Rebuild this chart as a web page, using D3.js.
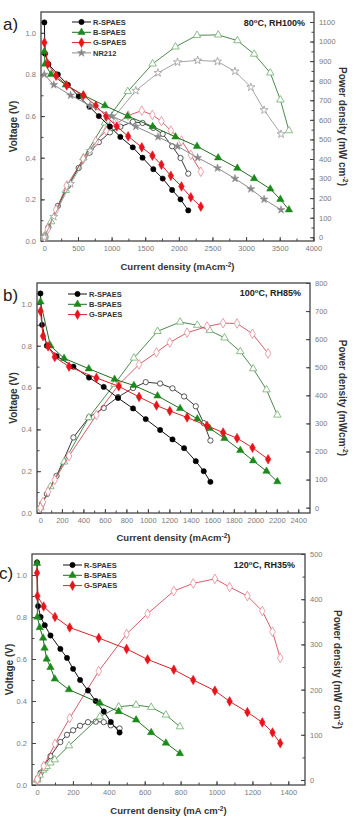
<!DOCTYPE html>
<html>
<head>
<meta charset="utf-8">
<script src="https://cdn.jsdelivr.net/npm/d3@7"></script>
<style>
  body { margin: 0; background: #fff; }
  text { font-family: "Liberation Sans", Arial, sans-serif; }
</style>
</head>
<body>
<script>
// ---- panel a) 80oC, RH100% ----
var aR_I = [0, 10, 60, 200, 350, 510, 670, 810, 975, 1130, 1315, 1460, 1620, 1760, 1900, 2025, 2140];
var aR_V = [1.05, 0.90, 0.85, 0.80, 0.75, 0.695, 0.645, 0.60, 0.55, 0.50, 0.45, 0.40, 0.345, 0.30, 0.245, 0.20, 0.147];
var aR_P = [0, 9, 51, 160, 262, 354, 432, 486, 536, 565, 590, 584, 559, 528, 465, 405, 325];

var aB_I = [0, 10, 100, 320, 580, 900, 1240, 1610, 1950, 2270, 2585, 2870, 3120, 3360, 3510, 3637];
var aB_V = [0.91, 0.85, 0.80, 0.75, 0.70, 0.65, 0.60, 0.55, 0.50, 0.455, 0.40, 0.35, 0.30, 0.25, 0.20, 0.15];
var aB_P = [0, 9, 80, 240, 406, 585, 745, 886, 973, 1032, 1034, 1005, 936, 840, 702, 545];

var aG_I = [0, 50, 174, 333, 580, 765, 918, 1077, 1246, 1449, 1607, 1741, 1881, 2039, 2178, 2327];
var aG_V = [0.953, 0.851, 0.794, 0.747, 0.70, 0.65, 0.60, 0.55, 0.503, 0.45, 0.41, 0.366, 0.313, 0.262, 0.21, 0.165];
var aG_P = [0, 42, 140, 265, 400, 490, 545, 580, 622, 647, 625, 593, 545, 494, 421, 335];

var aN_I = [0, 140, 390, 680, 1000, 1360, 1690, 1980, 2280, 2575, 2835, 3071, 3268, 3520];
var aN_V = [0.80, 0.75, 0.70, 0.65, 0.60, 0.55, 0.50, 0.455, 0.40, 0.35, 0.30, 0.25, 0.20, 0.15];
var aN_P = [0, 105, 273, 442, 600, 749, 840, 895, 904, 898, 848, 767, 650, 527];

// ---- panel b) 100oC, RH85% ----
var bR_I = [0, 15, 60, 150, 307, 452, 589, 722, 862, 980, 1114, 1229, 1337, 1446, 1520, 1582];
var bR_V = [1.05, 0.90, 0.80, 0.75, 0.70, 0.648, 0.603, 0.55, 0.50, 0.449, 0.397, 0.352, 0.31, 0.248, 0.20, 0.149];
var bR_P = [0, 14, 48, 113, 250, 322, 355, 394, 426, 447, 442, 425, 396, 361, 301, 239];

var bB_I = [0, 93, 220, 450, 690, 870, 1090, 1300, 1460, 1575, 1713, 1860, 1980, 2104, 2205];
var bB_V = [1.01, 0.80, 0.74, 0.69, 0.64, 0.61, 0.56, 0.50, 0.45, 0.405, 0.357, 0.30, 0.25, 0.20, 0.15];
var bB_P = [0, 75, 163, 321, 440, 533, 628, 661, 650, 631, 605, 556, 495, 420, 330];

var bG_I = [0, 24, 71, 133, 266, 521, 729, 918, 1080, 1204, 1365, 1551, 1700, 1830, 1974, 2119];
var bG_V = [0.965, 0.846, 0.797, 0.746, 0.70, 0.646, 0.606, 0.555, 0.514, 0.488, 0.457, 0.417, 0.385, 0.358, 0.312, 0.257];
var bG_P = [0, 20, 57, 99, 184, 330, 438, 510, 553, 588, 623, 645, 657, 656, 619, 549];

// ---- panel c) 120oC, RH35% ----
var cR_I = [0, 6, 20, 43, 75, 130, 167, 201, 240, 284, 327, 372, 411, 460];
var cR_V = [1.06, 0.852, 0.80, 0.761, 0.712, 0.648, 0.605, 0.553, 0.50, 0.45, 0.40, 0.35, 0.30, 0.25];
var cR_P = [0, 5, 16, 33, 53, 84, 100, 110, 120, 128, 129, 128, 121, 114];

var cB_I = [0, 2, 15, 34, 42, 54, 75, 99, 178, 350, 455, 552, 636, 718, 796];
var cB_V = [1.056, 0.80, 0.75, 0.70, 0.652, 0.60, 0.56, 0.505, 0.454, 0.39, 0.35, 0.31, 0.25, 0.20, 0.15];
var cB_P = [0, 2, 11, 22, 26, 30, 38, 45, 76, 140, 162, 166, 161, 144, 118];

var cG_I = [0, 2, 37, 100, 182, 344, 499, 616, 762, 870, 991, 1073, 1172, 1255, 1312, 1355];
var cG_V = [1.01, 0.90, 0.85, 0.80, 0.75, 0.70, 0.648, 0.598, 0.549, 0.50, 0.449, 0.398, 0.347, 0.298, 0.25, 0.199];
var cG_P = [0, 2, 31, 80, 137, 241, 323, 368, 418, 435, 445, 427, 407, 374, 328, 270];

// ---- ticks ----
var vTicks = [0, 0.2, 0.4, 0.6, 0.8, 1.0];
var aXTicks = [0, 500, 1000, 1500, 2000, 2500, 3000, 3500, 4000];
var aPTicks = [0, 100, 200, 300, 400, 500, 600, 700, 800, 900, 1000, 1100];
var bXTicks = [0, 200, 400, 600, 800, 1000, 1200, 1400, 1600, 1800, 2000, 2200, 2400];
var bPTicks = [0, 100, 200, 300, 400, 500, 600, 700, 800];
var cXTicks = [0, 200, 400, 600, 800, 1000, 1200, 1400];
var cPTicks = [0, 100, 200, 300, 400, 500];

var styles = {
  R: { name: "R-SPAES", sym: d3.symbolCircle, size: 22, col: "#000", line: "#111", open: "#333", openLine: "#222" },
  B: { name: "B-SPAES", sym: d3.symbolTriangle, size: 24, col: "#1a8a1a", line: "#236b23", open: "#6fae6f", openLine: "#3c7a3c" },
  G: { name: "G-SPAES", sym: d3.symbolDiamond, size: 27, col: "#e8141c", line: "#e02028", open: "#e58c96", openLine: "#d24a5a" },
  N: { name: "NR212", sym: d3.symbolStar, size: 20, col: "#8a8a8a", line: "#8a8a8a", open: "#9a9a9a", openLine: "#999" }
};

var svg = d3.select("body").append("svg")
    .attr("width", 356)
    .attr("height", 820);

var panels = [
  {
    label: "a)", labelX: 3, labelY: 30,
    xDom: [-50, 4010], xR: [41, 314], xTicks: aXTicks, xMinor: d3.range(0, 4001, 250),
    yR0: [241, 12], pDom: [-19, 1151], pTicks: aPTicks, pMinor: d3.range(0, 1101, 50),
    temp: "80", rh: "RH100%", condX: 305, condY: 26,
    xTitle: "Current density (mAcm", xTitleY: 270, pTitle: "Power density (mW cm", pTitleX: 339,
    vTitleX: 17, legX: 72, legY: 22,
    series: [
      { k: "R", I: aR_I, V: aR_V, P: aR_P },
      { k: "B", I: aB_I, V: aB_V, P: aB_P },
      { k: "G", I: aG_I, V: aG_V, P: aG_P },
      { k: "N", I: aN_I, V: aN_V, P: aN_P }
    ]
  },
  {
    label: "b)", labelX: 3, labelY: 301,
    xDom: [-32, 2509], xR: [37, 310], xTicks: bXTicks, xMinor: d3.range(0, 2401, 100),
    yR0: [513, 283], pDom: [-19, 800], pTicks: bPTicks, pMinor: bPTicks,
    temp: "100", rh: "RH85%", condX: 301, condY: 296,
    xTitle: "Current density (mAcm", xTitleY: 541, pTitle: "Power density (mWcm", pTitleX: 339,
    vTitleX: 17, legX: 68, legY: 294,
    series: [
      { k: "R", I: bR_I, V: bR_V, P: bR_P },
      { k: "B", I: bB_I, V: bB_V, P: bB_P },
      { k: "G", I: bG_I, V: bG_V, P: bG_P }
    ]
  },
  {
    label: "c)", labelX: -1, labelY: 579,
    xDom: [-28, 1493], xR: [32, 305], xTicks: cXTicks, xMinor: d3.range(0, 1401, 100),
    yR0: [785, 554], pDom: [-11, 500], pTicks: cPTicks, pMinor: d3.range(0, 501, 50),
    temp: "120", rh: "RH35%", condX: 295, condY: 568,
    xTitle: "Current density (mA cm", xTitleY: 814, pTitle: "Power density (mW cm", pTitleX: 334,
    vTitleX: 13, legX: 63, legY: 565,
    series: [
      { k: "R", I: cR_I, V: cR_V, P: cR_P },
      { k: "B", I: cB_I, V: cB_V, P: cB_P },
      { k: "G", I: cG_I, V: cG_V, P: cG_P }
    ]
  }
];

panels.forEach(drawPanel);

function styleAxis(sel) {
  sel.select(".domain").remove();
  sel.selectAll(".tick line").attr("stroke", "#444");
  sel.selectAll(".tick text").attr("fill", "#7a7a7a").attr("font-size", 7.5);
}

// text with a raised "-2" (dy keeps it working in rotated text too)
function supText(t, before, after, supSize) {
  t.append("tspan").text(before);
  t.append("tspan").attr("font-size", supSize).attr("dy", -3.5).text("-2");
  t.append("tspan").attr("dy", 3.5).text(after);
}

function drawPanel(p) {
  var g = svg.append("g");
  var x = d3.scaleLinear().domain(p.xDom).range(p.xR);
  var yV = d3.scaleLinear().domain([0, 1.1]).range(p.yR0);
  var yP = d3.scaleLinear().domain(p.pDom).range(p.yR0);
  var bottom = p.yR0[0], top = p.yR0[1];
  var left = p.xR[0], right = p.xR[1];

  // minor ticks
  g.append("g").attr("transform", "translate(0," + bottom + ")")
    .call(d3.axisBottom(x).tickValues(p.xMinor).tickFormat("").tickSize(-2.5)).call(styleAxis);
  g.append("g").attr("transform", "translate(" + left + ",0)")
    .call(d3.axisLeft(yV).tickValues(d3.range(0, 1.05, 0.1)).tickFormat("").tickSize(-2.5)).call(styleAxis);
  g.append("g").attr("transform", "translate(" + right + ",0)")
    .call(d3.axisRight(yP).tickValues(p.pMinor).tickFormat("").tickSize(-2.5)).call(styleAxis);

  // major ticks
  g.append("g").attr("transform", "translate(0," + bottom + ")")
    .call(d3.axisBottom(x).tickValues(p.xTicks).tickFormat(d3.format("d")).tickSize(-4).tickPadding(5)).call(styleAxis);
  g.append("g").attr("transform", "translate(" + left + ",0)")
    .call(d3.axisLeft(yV).tickValues(vTicks).tickFormat(d3.format(".1f")).tickSize(-4).tickPadding(5)).call(styleAxis);
  g.append("g").attr("transform", "translate(" + right + ",0)")
    .call(d3.axisRight(yP).tickValues(p.pTicks).tickFormat(d3.format("d")).tickSize(-4).tickPadding(5)).call(styleAxis);

  // frame
  g.append("rect")
    .attr("x", left).attr("y", top)
    .attr("width", right - left).attr("height", bottom - top)
    .attr("fill", "none").attr("stroke", "#444").attr("stroke-width", 1.3);

  // power curves (open markers)
  p.series.forEach(function(s) {
    var st = styles[s.k];
    var idx = d3.range(s.I.length);
    g.append("path")
      .attr("d", d3.line().x(function(i) { return x(s.I[i]); }).y(function(i) { return yP(s.P[i]); })(idx))
      .attr("fill", "none").attr("stroke", st.openLine).attr("stroke-width", 0.9);
    g.selectAll(null).data(idx).enter().append("path")
      .attr("transform", function(i) { return "translate(" + x(s.I[i]) + "," + yP(s.P[i]) + ")"; })
      .attr("d", d3.symbol().type(st.sym).size(st.size))
      .attr("fill", "#fff").attr("stroke", st.open).attr("stroke-width", 0.8);
  });

  // polarization curves (filled markers)
  p.series.forEach(function(s) {
    var st = styles[s.k];
    var idx = d3.range(s.I.length);
    g.append("path")
      .attr("d", d3.line().x(function(i) { return x(s.I[i]); }).y(function(i) { return yV(s.V[i]); })(idx))
      .attr("fill", "none").attr("stroke", st.line).attr("stroke-width", 1);
    g.selectAll(null).data(idx).enter().append("path")
      .attr("transform", function(i) { return "translate(" + x(s.I[i]) + "," + yV(s.V[i]) + ")"; })
      .attr("d", d3.symbol().type(st.sym).size(st.size))
      .attr("fill", st.col).attr("stroke", st.col).attr("stroke-width", 0.5);
  });

  // legend
  p.series.forEach(function(s, j) {
    var st = styles[s.k];
    var ly = p.legY + j * 10.3;
    g.append("line").attr("x1", p.legX).attr("x2", p.legX + 19).attr("y1", ly).attr("y2", ly)
      .attr("stroke", st.line).attr("stroke-width", 1);
    g.append("path").attr("transform", "translate(" + (p.legX + 9.5) + "," + ly + ")")
      .attr("d", d3.symbol().type(st.sym).size(st.size))
      .attr("fill", st.col).attr("stroke", st.col).attr("stroke-width", 0.5);
    g.append("text").attr("x", p.legX + 21).attr("y", ly).attr("dy", "0.35em")
      .attr("font-size", 7.5).attr("font-weight", "bold").attr("fill", "#333")
      .text(st.name);
  });

  // condition label
  var t = g.append("text").attr("x", p.condX).attr("y", p.condY)
    .attr("text-anchor", "end").attr("font-size", 9).attr("font-weight", "bold").attr("fill", "#222");
  t.append("tspan").text(p.temp);
  t.append("tspan").attr("font-size", 6).attr("dy", -3.5).text("o");
  t.append("tspan").attr("dy", 3.5).text("C, " + p.rh);

  // panel letter
  g.append("text").attr("x", p.labelX).attr("y", p.labelY)
    .attr("font-size", 17).attr("fill", "#222").text(p.label);

  // axis titles
  var xt = g.append("text").attr("x", (left + right) / 2).attr("y", p.xTitleY)
    .attr("text-anchor", "middle").attr("font-size", 9.5).attr("font-weight", "bold").attr("fill", "#333");
  supText(xt, p.xTitle, ")", 6.5);

  g.append("text")
    .attr("transform", "translate(" + p.vTitleX + "," + (top + bottom) / 2 + ") rotate(-90)")
    .attr("text-anchor", "middle").attr("font-size", 10).attr("font-weight", "bold").attr("fill", "#333")
    .text("Voltage (V)");

  var pt = g.append("text")
    .attr("transform", "translate(" + p.pTitleX + "," + (top + bottom) / 2 + ") rotate(90)")
    .attr("text-anchor", "middle").attr("font-size", 10).attr("font-weight", "bold").attr("fill", "#333");
  supText(pt, p.pTitle, ")", 7);
}
</script>
</body>
</html>
